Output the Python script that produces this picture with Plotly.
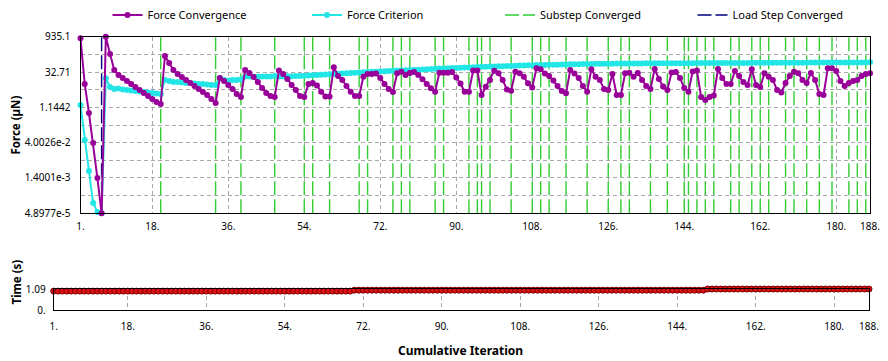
import math
import plotly.graph_objects as go

# ---------------- data ----------------
iterations = list(range(1, 189))

force_convergence = [
    803, 10.5, 0.668, 0.0387, 0.0014, 4.8977e-5, 935.1, 181, 39.6, 24.7,
    18.5, 13.9, 10.5, 7.89, 5.94, 4.46, 3.36, 2.53, 1.90, 1.57,
    150, 77.0, 39.6, 27.1, 20.4, 15.3, 11.5, 8.68, 6.53, 4.91,
    3.69, 2.53, 1.73, 18.5, 13.9, 9.54, 6.53, 4.06, 3.05, 39.6,
    29.8, 20.4, 12.7, 7.18, 4.46, 3.36, 3.05, 37.8, 27.1, 16.9,
    9.54, 5.94, 3.36, 3.05, 10.5, 11.5, 9.10, 5.05, 3.20, 3.20,
    51.2, 22.4, 15.3, 8.68, 5.05, 3.36, 3.36, 21.0, 27.1, 27.1,
    28.4, 18.5, 10.5, 6.53, 4.91, 29.0, 33.7, 24.7, 29.8, 32.8,
    24.7, 16.4, 10.5, 6.97, 5.05, 30.7, 30.7, 30.7, 32.8, 19.5,
    11.0, 5.05, 5.05, 37.8, 37.8, 3.69, 8.12, 15.3, 37.1, 29.0,
    15.3, 6.22, 5.55, 33.7, 29.0, 21.0, 11.2, 7.52, 46.6, 42.4,
    28.4, 22.4, 14.6, 8.68, 5.40, 4.34, 39.6, 28.4, 18.5, 8.68,
    5.05, 42.4, 21.0, 15.3, 6.53, 5.94, 27.1, 3.69, 3.69, 29.0,
    30.7, 21.0, 29.8, 15.3, 8.68, 6.53, 43.6, 16.9, 8.28, 5.94,
    31.3, 32.8, 18.5, 7.18, 5.05, 34.4, 37.8, 3.05, 2.30, 3.05,
    3.52, 43.6, 18.5, 10.5, 10.5, 36.1, 22.4, 12.7, 9.54, 42.4,
    9.54, 7.89, 29.0, 21.0, 15.3, 5.94, 4.68, 11.5, 22.4, 33.7,
    29.0, 15.3, 11.5, 29.8, 15.3, 4.06, 3.69, 46.6, 46.6, 36.1,
    13.9, 8.68, 11.5, 13.9, 15.3, 22.4, 27.1, 29.0,
]

force_criterion = [
    1.43, 0.0515, 0.00272, 1.3e-4, 5.53e-5, 4.8977e-5, 18.0, 7.9, 6.5, 6.8,
    6.2, 5.9, 5.7, 5.4, 5.2, 4.9, 4.7, 4.5, 4.3, 4.1,
    15.3, 13.9, 12.7, 12.7, 12.1, 11.5, 11.5, 11.0, 10.5, 10.5,
    10.0, 9.5, 9.5, 18.5, 15.3, 14.6, 15.3, 15.3, 16.1, 21.4,
    21.4, 21.0, 21.0, 21.4, 21.4, 21.4, 22.4, 21.4, 21.6, 21.8,
    22.0, 22.3, 22.6, 23.0, 23.5, 23.8, 24.5, 25.0, 25.6, 26.2,
    27.5, 28.0, 28.6, 29.2, 29.8, 30.4, 31.0, 32.0, 32.4, 33.2,
    33.8, 34.5, 35.2, 35.8, 36.5, 37.5, 38.0, 38.8, 39.4, 40.2,
    41.0, 41.8, 42.6, 43.4, 44.2, 45.3, 46.0, 46.8, 47.6, 48.4,
    49.2, 50.0, 50.8, 52.0, 52.6, 53.5, 54.2, 54.8, 55.8, 56.5,
    57.2, 57.9, 58.6, 59.5, 60.2, 60.9, 61.6, 62.3, 63.2, 63.7,
    64.3, 64.8, 65.5, 66.0, 66.6, 67.1, 67.8, 68.3, 68.9, 69.4,
    69.9, 70.5, 70.9, 71.3, 71.7, 72.1, 72.5, 72.8, 73.1, 73.4,
    73.6, 73.9, 74.1, 74.3, 74.5, 74.7, 75.0, 75.1, 75.2, 75.3,
    75.5, 75.6, 75.7, 75.8, 76.0, 76.1, 76.2, 76.4, 76.5, 76.7,
    76.8, 77.0, 77.1, 77.2, 77.3, 77.5, 77.6, 77.8, 77.9, 78.0,
    78.2, 78.3, 78.5, 78.6, 78.8, 78.9, 79.0, 79.1, 79.3, 79.4,
    79.6, 79.7, 79.8, 80.0, 80.1, 80.2, 80.4, 80.5, 80.6, 80.8,
    80.9, 81.0, 81.1, 81.3, 81.4, 81.6, 81.7, 82.0,
]

time_values = [0.98] * 69 + [1.03] * 81 + [1.09] * 38

substep_converged = [20, 33, 39, 47, 54, 56, 60, 67, 69, 75, 77, 79, 85, 87, 93, 95, 96, 98,
                     103, 108, 110, 112, 116, 121, 126, 129, 131, 136, 140, 144, 145, 147,
                     149, 151, 155, 157, 160, 162, 164, 168, 170, 173, 176, 179, 183, 185, 187]
load_step_converged = [6]

x_tick_vals = [1, 18, 36, 54, 72, 90, 108, 126, 144, 162, 180, 188]
x_tick_text = ["1.", "18.", "36.", "54.", "72.", "90.", "108.", "126.", "144.", "162.", "180.", "188."]
force_tick_vals = [935.1, 32.71, 1.1442, 4.0026e-2, 1.4001e-3, 4.8977e-5]
force_tick_text = ["935.1", "32.71", "1.1442", "4.0026e-2", "1.4001e-3", "4.8977e-5"]
force_mid_vals = [174.9, 6.118, 0.2140, 7.486e-3, 2.6186e-4]
time_tick_vals = [0, 1.09]
time_tick_text = ["0.", "1.09"]

# ---------------- styling ----------------
FONT = "Noto Sans"
FS = 10
PAGE_OFF = 8            # default body margin of the page
W, H = 888 - PAGE_OFF, 361 - PAGE_OFF
PURPLE = "#990099"
CYAN = "#22E6E6"
GREEN = "#33CC33"
NAVY = "#000080"
GRID = "#A8A8A8"

f_min, f_max = min(force_tick_vals), max(force_tick_vals)

fig = go.Figure()

sx, sy = [], []
for s in substep_converged:
    sx += [s, s, None]
    sy += [f_min, f_max, None]
fig.add_trace(go.Scatter(x=sx, y=sy, mode="lines", name="Substep Converged",
                         line=dict(color=GREEN, width=1.4, dash="14px,4px"),
                         hoverinfo="skip", legend="legend3"))

lx, ly = [], []
for s in load_step_converged:
    lx += [s, s, None]
    ly += [f_min, f_max, None]
fig.add_trace(go.Scatter(x=lx, y=ly, mode="lines", name="Load Step Converged",
                         line=dict(color=NAVY, width=1.4, dash="14px,4px"),
                         hoverinfo="skip", legend="legend4"))

fig.add_trace(go.Scatter(x=iterations, y=force_criterion, mode="lines+markers",
                         name="Force Criterion",
                         line=dict(color=CYAN, width=2),
                         marker=dict(color=CYAN, size=6, symbol="circle"),
                         legend="legend2", cliponaxis=False))

fig.add_trace(go.Scatter(x=iterations, y=force_convergence, mode="lines+markers",
                         name="Force Convergence",
                         line=dict(color=PURPLE, width=2),
                         marker=dict(color=PURPLE, size=6, symbol="circle"),
                         legend="legend", cliponaxis=False))

fig.add_trace(go.Scatter(x=iterations, y=time_values, mode="lines+markers",
                         name="Time", showlegend=False,
                         line=dict(color="#800000", width=1),
                         marker=dict(color="#DD1111", size=6, symbol="circle",
                                     line=dict(color="#7A0000", width=1)),
                         xaxis="x2", yaxis="y2", cliponaxis=False))

# ---------------- layout ----------------
def px_x(p):
    return (p - PAGE_OFF) / W

def px_y(p):
    return 1 - (p - PAGE_OFF) / H

axis_common = dict(showline=True, linecolor="black", linewidth=1, mirror=True,
                   ticks="", zeroline=False, automargin=False,
                   tickfont=dict(family=FONT, size=FS, color="black"))

legend_common = dict(orientation="h", yanchor="middle", xanchor="left", y=px_y(15),
                     bgcolor="rgba(0,0,0,0)", font=dict(family=FONT, size=11, color="black"))

TITLE_FONT = dict(family=FONT, size=11.5, color="black")

fig.update_layout(
    width=W, height=H,
    margin=dict(l=0, r=0, t=0, b=0, autoexpand=False),
    paper_bgcolor="white", plot_bgcolor="white",
    font=dict(family=FONT, size=FS, color="black"),
    xaxis=dict(domain=[px_x(80.5), px_x(870)], range=[1, 188], anchor="y",
               tickmode="array", tickvals=x_tick_vals, ticktext=x_tick_text, tickangle=0,
               showgrid=True, gridcolor=GRID, griddash="4px,3px", gridwidth=1,
               ticklabelstandoff=4, **axis_common),
    yaxis=dict(domain=[px_y(213.3), px_y(36.7)], type="log",
               range=[math.log10(f_min), math.log10(f_max)], anchor="x",
               tickmode="array", tickvals=force_tick_vals + force_mid_vals,
               ticktext=force_tick_text + [""] * len(force_mid_vals),
               showgrid=True, gridcolor=GRID, griddash="4px,3px", gridwidth=1,
               ticklabelstandoff=7, **axis_common),
    xaxis2=dict(domain=[px_x(53.7), px_x(869)], range=[1, 188], anchor="y2",
                tickmode="array", tickvals=x_tick_vals, ticktext=x_tick_text, tickangle=0,
                showgrid=True, gridcolor=GRID, griddash="4px,3px", gridwidth=1,
                ticklabelstandoff=7, **axis_common),
    yaxis2=dict(domain=[px_y(310), px_y(289)], range=[0, 1.09], anchor="x2",
                tickmode="array", tickvals=time_tick_vals, ticktext=time_tick_text,
                showgrid=False, ticklabelstandoff=5, **axis_common),
    legend=dict(x=px_x(107.5), **legend_common),
    legend2=dict(x=px_x(307), **legend_common),
    legend3=dict(x=px_x(500), **legend_common),
    legend4=dict(x=px_x(692.5), **legend_common),
    annotations=[
        dict(text="<b>Force (µN)</b>", x=px_x(15.5), y=px_y(125), xref="paper", yref="paper",
             showarrow=False, textangle=-90, font=TITLE_FONT,
             xanchor="center", yanchor="middle"),
        dict(text="<b>Time (s)</b>", x=px_x(15.5), y=px_y(282), xref="paper", yref="paper",
             showarrow=False, textangle=-90, font=TITLE_FONT,
             xanchor="center", yanchor="middle"),
        dict(text="<b>Cumulative Iteration</b>", x=px_x(460), y=px_y(350), xref="paper",
             yref="paper", showarrow=False, font=dict(family=FONT, size=12, color="black"),
             xanchor="center", yanchor="middle"),
    ],
)

fig.write_html("out.html")
